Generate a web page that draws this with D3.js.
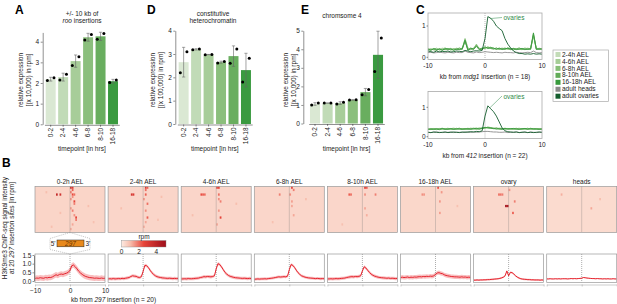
<!DOCTYPE html>
<html><head><meta charset="utf-8">
<script src="https://cdn.jsdelivr.net/npm/d3@7"></script>
<style>body{margin:0;background:#fff}svg{display:block;font-family:"Liberation Sans",Arial,Helvetica,sans-serif}</style>
</head><body><svg id="c" width="617" height="304"></svg>
<script>
// ---------------- DATA ----------------
const timepoints = ["0-2","2-4","4-6","6-8","8-10","16-18"];
const rooReps    = [[2.12,2.25],[2.15,2.42],[2.85,3.27],[4.08,4.35],[4.12,4.4],[2.02,2.15]];
const heteroReps = [[2.2,3.1],[3.18,3.22],[2.97,2.98],[2.62,2.68],[2.6,3.22],[1.8,2.82]];
const chr4Reps   = [[1.0,1.1],[1.1,1.1],[1.05,1.15],[1.26,1.28],[1.55,1.83],[2.8,4.6]];
const barColors  = ["#dae8d3","#c1dbb7","#a7cd99","#8bbf7d","#69ae5f","#3a9a40"];

const kbBins = d3.range(41).map(i => -10 + i * 0.5);

const cSeriesNames = ["2-4h AEL","4-6h AEL","6-8h AEL","8-10h AEL","16-18h AEL","adult heads","adult ovaries"];
const cColors = ["#c3dcb8","#a5cd97","#86be78","#62ab58","#379a3c","#8a8a8a","#145e2e"];
const mdg1 = [
 [0.25,0.28,0.22,0.26,0.24,0.3,0.23,0.27,0.25,0.28,0.24,0.26,0.3,0.58,0.27,0.25,0.3,0.4,0.26,0.28,0.3,0.32,0.3,0.28,0.27,0.3,0.26,0.28,0.25,0.27,0.26,0.24,0.28,0.25,0.27,0.3,0.26,0.7,0.3,0.26,0.25],
 [0.22,0.25,0.27,0.23,0.28,0.25,0.26,0.24,0.29,0.25,0.27,0.24,0.28,0.52,0.25,0.27,0.26,0.36,0.28,0.25,0.32,0.3,0.33,0.27,0.29,0.26,0.3,0.25,0.28,0.24,0.27,0.28,0.25,0.29,0.24,0.27,0.28,0.75,0.27,0.28,0.24],
 [0.28,0.24,0.26,0.29,0.23,0.27,0.3,0.25,0.26,0.24,0.29,0.27,0.25,0.6,0.3,0.24,0.28,0.42,0.25,0.3,0.28,0.34,0.29,0.3,0.25,0.28,0.27,0.3,0.26,0.25,0.29,0.26,0.27,0.24,0.3,0.26,0.29,0.68,0.26,0.29,0.27],
 [0.24,0.26,0.25,0.22,0.27,0.24,0.25,0.28,0.23,0.27,0.25,0.3,0.26,0.5,0.24,0.3,0.25,0.38,0.29,0.26,0.3,0.31,0.28,0.26,0.3,0.25,0.28,0.26,0.3,0.28,0.24,0.27,0.3,0.26,0.25,0.28,0.25,0.72,0.28,0.25,0.28],
 [0.26,0.22,0.28,0.25,0.26,0.22,0.28,0.26,0.27,0.22,0.26,0.25,0.27,0.55,0.22,0.28,0.27,0.35,0.24,0.27,0.34,0.28,0.31,0.29,0.26,0.29,0.25,0.27,0.29,0.26,0.28,0.25,0.26,0.28,0.26,0.25,0.27,0.78,0.25,0.27,0.26],
 [0.15,0.16,0.14,0.15,0.17,0.15,0.14,0.16,0.15,0.14,0.16,0.15,0.15,0.2,0.16,0.15,0.14,0.17,0.15,0.16,0.18,0.17,0.16,0.15,0.16,0.15,0.14,0.16,0.15,0.15,0.14,0.16,0.15,0.14,0.15,0.16,0.15,0.2,0.15,0.14,0.15],
 [0.2,0.18,0.16,0.2,0.17,0.19,0.18,0.2,0.17,0.18,0.2,0.19,0.18,0.22,0.2,0.18,0.2,0.21,0.2,0.22,0.6,1.3,1.25,1.15,1.0,0.92,0.85,0.6,0.42,0.3,0.2,0.15,0.12,0.12,0.1,0.11,0.1,0.12,0.1,0.11,0.1]
];
const ins412 = [
 [0.25,0.27,0.24,0.28,0.26,0.25,0.28,0.24,0.27,0.3,0.26,0.27,0.25,0.28,0.26,0.3,0.27,0.25,0.28,0.27,0.3,0.32,0.3,0.29,0.28,0.3,0.27,0.26,0.28,0.25,0.27,0.29,0.26,0.28,0.25,0.27,0.26,0.28,0.25,0.27,0.26],
 [0.27,0.24,0.28,0.25,0.27,0.29,0.25,0.27,0.26,0.25,0.29,0.25,0.28,0.26,0.29,0.26,0.28,0.3,0.26,0.29,0.31,0.3,0.28,0.3,0.27,0.28,0.29,0.27,0.25,0.28,0.26,0.27,0.29,0.25,0.28,0.26,0.29,0.26,0.28,0.25,0.27],
 [0.24,0.28,0.26,0.27,0.25,0.27,0.26,0.29,0.25,0.28,0.27,0.29,0.26,0.27,0.25,0.28,0.26,0.27,0.3,0.28,0.29,0.33,0.31,0.28,0.3,0.27,0.26,0.29,0.27,0.26,0.28,0.25,0.27,0.27,0.26,0.29,0.25,0.27,0.26,0.28,0.24],
 [0.26,0.25,0.27,0.24,0.28,0.26,0.27,0.25,0.28,0.26,0.25,0.28,0.27,0.25,0.28,0.27,0.29,0.26,0.27,0.3,0.3,0.31,0.29,0.27,0.29,0.26,0.28,0.26,0.28,0.27,0.25,0.28,0.26,0.26,0.27,0.25,0.28,0.25,0.27,0.26,0.27],
 [0.25,0.26,0.25,0.27,0.24,0.28,0.25,0.26,0.27,0.25,0.27,0.26,0.25,0.27,0.26,0.25,0.27,0.28,0.26,0.28,0.32,0.3,0.3,0.28,0.26,0.27,0.25,0.28,0.26,0.27,0.28,0.26,0.25,0.27,0.28,0.26,0.27,0.27,0.26,0.25,0.26],
 [0.15,0.14,0.15,0.16,0.15,0.14,0.15,0.15,0.16,0.14,0.15,0.15,0.14,0.16,0.15,0.15,0.16,0.15,0.16,0.17,0.18,0.18,0.17,0.16,0.16,0.15,0.15,0.16,0.14,0.15,0.15,0.16,0.14,0.15,0.15,0.14,0.16,0.15,0.14,0.15,0.15],
 [0.15,0.14,0.16,0.15,0.14,0.15,0.16,0.14,0.15,0.16,0.15,0.14,0.16,0.15,0.16,0.17,0.16,0.18,0.17,0.2,0.7,1.05,0.95,0.85,0.7,0.5,0.3,0.2,0.17,0.16,0.15,0.16,0.14,0.15,0.16,0.14,0.15,0.14,0.15,0.16,0.15]
];

const bSamples = ["0-2h AEL","2-4h AEL","4-6h AEL","6-8h AEL","8-10h AEL","16-18h AEL","ovary","heads"];
const bProfiles = [
 [0.15,0.17,0.16,0.19,0.17,0.16,0.2,0.18,0.21,0.2,0.24,0.3,0.36,0.32,0.38,0.4,0.38,0.42,0.45,0.5,0.62,0.88,0.92,0.82,0.7,0.56,0.46,0.38,0.31,0.26,0.23,0.2,0.19,0.18,0.16,0.17,0.16,0.15,0.17,0.15,0.16],
 [0.12,0.13,0.12,0.14,0.12,0.13,0.14,0.13,0.15,0.14,0.16,0.18,0.2,0.26,0.3,0.28,0.27,0.22,0.2,0.25,0.55,0.9,0.88,0.78,0.62,0.48,0.38,0.3,0.25,0.22,0.2,0.18,0.17,0.16,0.15,0.16,0.15,0.14,0.15,0.14,0.15],
 [0.12,0.12,0.13,0.12,0.14,0.13,0.13,0.14,0.15,0.16,0.17,0.2,0.22,0.25,0.24,0.26,0.25,0.24,0.26,0.3,0.7,1.0,0.95,0.82,0.66,0.5,0.4,0.32,0.27,0.24,0.21,0.19,0.18,0.17,0.16,0.15,0.16,0.15,0.14,0.15,0.14],
 [0.1,0.11,0.12,0.11,0.12,0.12,0.13,0.12,0.14,0.15,0.16,0.18,0.2,0.22,0.24,0.23,0.24,0.25,0.24,0.28,0.65,0.95,0.9,0.78,0.62,0.48,0.38,0.3,0.26,0.22,0.2,0.18,0.17,0.16,0.15,0.14,0.15,0.14,0.13,0.14,0.13],
 [0.12,0.12,0.13,0.12,0.13,0.14,0.13,0.14,0.15,0.16,0.17,0.2,0.22,0.24,0.25,0.24,0.26,0.25,0.27,0.3,0.58,0.82,0.75,0.62,0.5,0.4,0.33,0.28,0.25,0.22,0.2,0.19,0.18,0.17,0.16,0.17,0.15,0.16,0.15,0.14,0.15],
 [0.2,0.22,0.2,0.21,0.23,0.2,0.22,0.21,0.23,0.22,0.24,0.25,0.24,0.26,0.25,0.27,0.26,0.28,0.27,0.3,0.38,0.46,0.48,0.44,0.42,0.36,0.32,0.3,0.28,0.26,0.25,0.24,0.24,0.23,0.22,0.24,0.22,0.23,0.21,0.22,0.21],
 [0.05,0.05,0.06,0.05,0.06,0.06,0.07,0.07,0.08,0.08,0.09,0.1,0.11,0.12,0.13,0.15,0.18,0.22,0.3,0.58,0.3,0.5,0.48,0.4,0.3,0.22,0.17,0.13,0.11,0.1,0.09,0.08,0.08,0.07,0.07,0.06,0.06,0.06,0.05,0.06,0.05],
 [0.12,0.12,0.13,0.12,0.12,0.13,0.12,0.13,0.12,0.13,0.13,0.13,0.12,0.13,0.14,0.13,0.14,0.13,0.14,0.15,0.16,0.2,0.19,0.17,0.16,0.15,0.14,0.14,0.13,0.14,0.13,0.13,0.12,0.13,0.12,0.13,0.12,0.12,0.13,0.12,0.12]
];
const bSpread = [0.16,0.09,0.09,0.08,0.09,0.12,0.05,0.03];
const hmBase = [0.5,0.48,0.48,0.46,0.46,0.45,0.42,0.36];
const hmHot = [
 [[0,20,3.2],[0,21,3.0],[1,21,2.2],[2,20,1.8],[3,12,3.8],[3,14,3.4],[3,21,2.5],[3,22,2.0],[4,21,1.6],[5,20,1.5],[6,22,2.6],[7,22,1.8],[9,20,1.4],[10,21,1.8],[12,22,1.6],[13,23,2.6],[14,23,1.8],[16,21,1.3],[18,20,1.2],[2,6,1.0],[8,30,1.0],[11,14,1.0],[15,33,0.95],[17,9,1.0]],
 [[0,21,3.0],[0,22,2.2],[1,21,2.0],[3,13,3.2],[3,14,3.0],[3,21,2.2],[5,20,1.5],[7,22,2.0],[10,21,1.6],[13,22,2.2],[15,21,1.3],[17,20,1.2],[4,30,1.0],[9,7,1.0],[14,28,0.95]],
 [[0,20,2.4],[0,21,2.6],[3,11,2.4],[3,12,2.2],[3,13,2.0],[3,21,2.0],[5,21,1.6],[6,22,1.8],[10,21,1.5],[13,22,2.6],[16,20,1.3],[7,31,1.0],[12,6,1.0]],
 [[0,21,2.6],[1,22,1.8],[3,14,1.8],[3,20,1.6],[6,21,1.4],[8,21,1.3],[12,22,1.3],[5,29,1.0],[15,10,0.95]],
 [[0,21,2.8],[0,22,2.2],[3,12,2.2],[3,13,2.0],[3,21,1.6],[3,27,1.8],[9,21,1.3],[12,22,1.2],[16,8,0.95]],
 [[0,21,2.4],[2,23,1.5],[3,12,1.6],[3,13,1.5],[6,22,1.5],[11,22,1.4],[8,32,0.95]],
 [[8,18,5.0],[8,19,4.4],[3,14,2.0],[3,15,1.9],[3,16,1.8],[11,22,2.2],[6,23,1.8],[1,20,1.5]],
 [[3,8,1.2],[9,25,1.3],[5,30,1.0]]
];
const rpmTicks = [0,2,4];

// ---------------- DRAW ----------------
const svg = d3.select("#c");
const FS = 6.5;

// s: string, or list of [text, italic] parts
function label(g, x, y, s, o = {}) {
  const t = g.append("text").attr("x", x).attr("y", y)
    .attr("font-size", o.size || FS).attr("text-anchor", o.anchor || "middle")
    .attr("fill", o.fill || "#222").attr("font-weight", o.weight || "normal");
  if (o.rotate) t.attr("transform", `rotate(${o.rotate},${x},${y})`);
  if (Array.isArray(s)) s.forEach(p => t.append("tspan").text(p[0]).attr("font-style", p[1] ? "italic" : "normal"));
  else t.text(s);
  return t;
}
function styleAxis(g) {
  g.selectAll("path,line").attr("stroke", "#222").attr("stroke-width", 0.5);
  g.selectAll("text").attr("font-size", FS).attr("fill", "#222").attr("font-family", null);
}

// panel letters
[["A",15,13.5],["D",147,13.5],["E",301,13.5],["C",416,13.5],["B",2,167]].forEach(d =>
  label(svg, d[1], d[2], d[0], {size: 12, weight: "bold", anchor: "start", fill: "#000"}));

function barPanel(c) {
  const g = svg.append("g");
  const x = d3.scaleBand().domain(timepoints).range(c.xr).paddingInner(0.2).paddingOuter(0.1);
  const y = d3.scaleLinear().domain([0, c.yMax]).range([c.yZero, c.yZero - c.yMax * c.ppu]);
  const st = c.reps.map((r, i) => ({t: timepoints[i], m: d3.mean(r), s: d3.deviation(r), r, col: barColors[i]}));
  g.selectAll("rect.b").data(st).join("rect")
    .attr("x", d => x(d.t)).attr("width", x.bandwidth())
    .attr("y", d => y(d.m)).attr("height", d => y(0) - y(d.m)).attr("fill", d => d.col);
  const eb = g.selectAll("g.e").data(st).join("g").attr("stroke", "#666").attr("stroke-width", 0.6);
  eb.append("line").attr("x1", d => x(d.t) + x.bandwidth() / 2).attr("x2", d => x(d.t) + x.bandwidth() / 2)
    .attr("y1", d => y(d.m - d.s)).attr("y2", d => y(d.m + d.s));
  [-1, 1].forEach(k => eb.append("line")
    .attr("x1", d => x(d.t) + x.bandwidth() / 2 - 1.6).attr("x2", d => x(d.t) + x.bandwidth() / 2 + 1.6)
    .attr("y1", d => y(d.m + k * d.s)).attr("y2", d => y(d.m + k * d.s)));
  const pts = st.flatMap(d => d.r.map((v, j) => ({t: d.t, v, j})));
  g.selectAll("circle").data(pts).join("circle")
    .attr("cx", d => x(d.t) + x.bandwidth() / 2 + (d.j ? 3.3 : -3.3)).attr("cy", d => y(d.v))
    .attr("r", 1.5).attr("fill", "#000");
  const ya = g.append("g").attr("transform", `translate(${c.axisX},0)`)
    .call(d3.axisLeft(y).tickValues(c.ticks).tickSize(2).tickPadding(1.5).tickSizeOuter(0).tickFormat(d3.format("d")));
  styleAxis(ya);
  const xa = g.append("g").attr("transform", `translate(0,${c.yZero + 0.5})`)
    .call(d3.axisBottom(x).tickSize(2).tickSizeOuter(0));
  styleAxis(xa);
  xa.selectAll("text").attr("transform", "rotate(-90)").attr("text-anchor", "end")
    .attr("x", -3).attr("y", 0).attr("dy", "0.33em");
  const cx = (c.xr[0] + c.xr[1]) / 2;
  label(g, cx, 150.5, "timepoint [in hrs]");
  c.title.forEach((t, i) => label(g, c.titleX, c.titleY + i * 7, t));
  label(g, c.ylabX, 80, "relative expression", {rotate: -90});
  label(g, c.ylabX + 7.5, 80, c.ylab2, {rotate: -90});
}
barPanel({reps: rooReps, xr: [44.45, 119.25], yZero: 124.3, ppu: 20.65, yMax: 4.45, axisX: 42.7, ticks: [0,1,2,3,4],
  title: ["+/- 10 kb of", [["roo", true], [" insertions"]]], titleX: 82, titleY: 15.5, ylabX: 23, ylab2: "[(x 10,000) in rpm]"});
barPanel({reps: heteroReps, xr: [177.4, 252.2], yZero: 124, ppu: 23.33, yMax: 4.0, axisX: 175.3, ticks: [0,1,2,3,4],
  title: ["constitutive", "heterochromatin"], titleX: 213, titleY: 15.5, ylabX: 155, ylab2: "[(x 100,000) in rpm]"});
barPanel({reps: chr4Reps, xr: [308.7, 384.3], yZero: 123.5, ppu: 18.56, yMax: 5.0, axisX: 303.3, ticks: [0,1,2,3,4,5],
  title: ["chromsome 4"], titleX: 342, titleY: 17.5, ylabX: 288, ylab2: "[(x 10,000) in rpm]"});

// ---- Panel C ----
function cPanel(c) {
  const g = svg.append("g");
  const x = d3.scaleLinear().domain([-10, 10]).range([428, 542]);
  const y = d3.scaleLinear().domain([0, 1]).range([c.y0px, c.y1px]);
  const id = "clip" + c.top;
  g.append("clipPath").attr("id", id).append("rect").attr("x", 428).attr("y", c.top).attr("width", 114).attr("height", c.h);
  g.append("line").attr("x1", x(0)).attr("x2", x(0)).attr("y1", c.top).attr("y2", c.top + c.h)
    .attr("stroke", "#888").attr("stroke-width", 0.6).attr("stroke-dasharray", "1,1");
  const line = d3.line().x((d, i) => x(kbBins[i])).y(d => y(d));
  g.append("g").attr("clip-path", `url(#${id})`).selectAll("path").data(c.series).join("path")
    .attr("d", d => line(d)).attr("fill", "none").attr("stroke", (d, i) => cColors[i]).attr("stroke-width", 0.9);
  g.append("rect").attr("x", 428).attr("y", c.top).attr("width", 114).attr("height", c.h)
    .attr("fill", "none").attr("stroke", "#aaa").attr("stroke-width", 0.8);
  [0, 1].forEach(v => {
    g.append("line").attr("x1", 426.5).attr("x2", 428).attr("y1", y(v)).attr("y2", y(v)).attr("stroke", "#222").attr("stroke-width", 0.5);
    label(g, 425.5, y(v) + 2.2, String(v), {anchor: "end"});
  });
  [-10, 0, 10].forEach(v => label(g, x(v), c.top + c.h + 8.5, String(v)));
  label(g, 485, c.top + c.h + 19.5, c.xlab);
  const ov = c.series[6];
  const pk = d3.maxIndex(ov);
  g.append("line").attr("x1", x(kbBins[pk]) + 2).attr("y1", y(ov[pk]) + 2).attr("x2", 502).attr("y2", c.top + 4.5)
    .attr("stroke", "#2f8a4a").attr("stroke-width", 0.5);
  label(g, 503.5, c.top + 7, "ovaries", {anchor: "start", fill: "#2f8a4a"});
}
cPanel({series: mdg1, top: 13, h: 46.5, y0px: 57.3, y1px: 26, xlab: [["kb from "], ["mdg1", true], [" insertion (n = 18)"]]});
cPanel({series: ins412, top: 91.5, h: 47, y0px: 136.7, y1px: 107.3, xlab: [["kb from "], ["412", true], [" insertion (n = 22)"]]});

// legend
const lg = svg.append("g");
lg.append("rect").attr("x", 553).attr("y", 50).attr("width", 55.5).attr("height", 51.5).attr("fill", "none").attr("stroke", "#aaa").attr("stroke-width", 0.7);
cSeriesNames.forEach((n, i) => {
  lg.append("rect").attr("x", 555.5).attr("y", 52 + i * 6.95).attr("width", 5).attr("height", 5).attr("fill", cColors[i]);
  label(lg, 562, 56.6 + i * 6.95, n, {anchor: "start"});
});

// ---- Panel B ----
const heat = d3.scaleLinear().domain([0, 1, 2.5, 5]).range(["#fdeae1", "#f7bfae", "#e8463b", "#a0101c"]).clamp(true);
const nRows = 20, nCols = 40;
const hx0 = 35, hStep = 73.1, hW = 70, hTop = 186.5, hH = 46;
const ly = d3.scaleLinear().domain([0, 1.5]).range([281, 255]);
bSamples.forEach((name, p) => {
  const g = svg.append("g");
  const x0 = hx0 + p * hStep;
  label(g, x0 + hW / 2, 183.8, name);
  const cx = d3.scaleBand().domain(d3.range(nCols)).range([x0, x0 + hW]);
  const cy = d3.scaleBand().domain(d3.range(nRows)).range([hTop, hTop + hH]);
  g.append("rect").attr("x", x0).attr("y", hTop).attr("width", hW).attr("height", hH).attr("fill", heat(hmBase[p]));
  g.selectAll("rect.cell").data(hmHot[p]).join("rect")
    .attr("x", d => cx(d[1])).attr("y", d => cy(d[0])).attr("width", cx.bandwidth()).attr("height", cy.bandwidth())
    .attr("fill", d => heat(d[2]));
  const kx = d3.scaleLinear().domain([-10, 10]).range([x0, x0 + hW]);
  g.append("line").attr("x1", kx(0)).attr("x2", kx(0)).attr("y1", hTop).attr("y2", hTop + hH)
    .attr("stroke", "#777").attr("stroke-width", 0.6).attr("stroke-dasharray", "1,1");
  g.append("rect").attr("x", x0).attr("y", hTop).attr("width", hW).attr("height", hH)
    .attr("fill", "none").attr("stroke", "#999").attr("stroke-width", 0.7);
  // profile
  const id = "bclip" + p;
  g.append("clipPath").attr("id", id).append("rect").attr("x", x0).attr("y", 254).attr("width", hW).attr("height", 28.5);
  const prof = bProfiles[p];
  const area = d3.area().x((d, i) => kx(kbBins[i])).y0(d => ly(Math.max(0, d - bSpread[p]))).y1(d => ly(d + bSpread[p]));
  const pl = d3.line().x((d, i) => kx(kbBins[i])).y(d => ly(d));
  const cg = g.append("g").attr("clip-path", `url(#${id})`);
  cg.append("path").attr("d", area(prof)).attr("fill", "#f5a9ab").attr("opacity", 0.75);
  cg.append("line").attr("x1", kx(0)).attr("x2", kx(0)).attr("y1", 254).attr("y2", 282.5)
    .attr("stroke", "#777").attr("stroke-width", 0.6).attr("stroke-dasharray", "1,1");
  cg.append("path").attr("d", pl(prof)).attr("fill", "none").attr("stroke", "#e3131e").attr("stroke-width", 0.9);
  g.append("rect").attr("x", x0).attr("y", 254).attr("width", hW).attr("height", 28.5)
    .attr("fill", "none").attr("stroke", "#999").attr("stroke-width", 0.7);
  const xa = g.append("g").attr("transform", "translate(0,284.5)")
    .call(d3.axisBottom(kx).tickValues([-10, 0, 10]).tickSize(2).tickSizeOuter(0).tickFormat(p === 0 ? d3.format("d") : () => ""));
  styleAxis(xa);
  xa.selectAll("path,line").attr("stroke", "#999");
  xa.selectAll("text").attr("dy", "0.6em");
  if (p === 0) {
    const ya = g.append("g").attr("transform", "translate(34,0)")
      .call(d3.axisLeft(ly).tickValues([0, 0.5, 1, 1.5]).tickSize(1.5).tickPadding(1).tickSizeOuter(0).tickFormat(d3.format(".1f")));
    styleAxis(ya);
  }
});
label(svg, 113.5, 301.5, [["kb from "], ["297", true], [" insertion (n = 20)"]]);
label(svg, 7, 228, "H3K9me3 ChIP-seq signal intensity", {rotate: -90});
label(svg, 14, 228, [["at 20 "], ["297", true], [" insertion sites [in rpm]"]], {rotate: -90});

// 297 element schematic
const sch = svg.append("g");
sch.append("polygon").attr("points", "70,232.5 50,238.5 50,249.5 70,254 90,249.5 90,238.5")
  .attr("fill", "none").attr("stroke", "#999").attr("stroke-width", 0.6).attr("stroke-dasharray", "1,1");
sch.append("rect").attr("x", 57).attr("y", 240).attr("width", 27).attr("height", 6.8).attr("fill", "#e8891c").attr("stroke", "#222").attr("stroke-width", 0.5);
label(sch, 70.5, 245.8, [["297", true]], {fill: "#6b3400"});
label(sch, 55.5, 246, "5'", {anchor: "end"});
label(sch, 85.5, 246, "3'", {anchor: "start"});

// colour bar
const cbx = d3.scaleLinear().domain([0, 5.1]).range([121.5, 166]);
const grad = svg.append("defs").append("linearGradient").attr("id", "rpmgrad");
d3.range(0, 5.11, 0.51).forEach(v => grad.append("stop").attr("offset", (v / 5.1 * 100) + "%").attr("stop-color", heat(v)));
svg.append("rect").attr("x", cbx(0)).attr("y", 240.5).attr("width", cbx(5.1) - cbx(0)).attr("height", 6.5)
  .attr("fill", "url(#rpmgrad)").attr("stroke", "#888").attr("stroke-width", 0.4);
label(svg, 144, 238.5, "rpm");
rpmTicks.forEach(v => label(svg, cbx(v), 254, String(v)));
</script></body></html>
